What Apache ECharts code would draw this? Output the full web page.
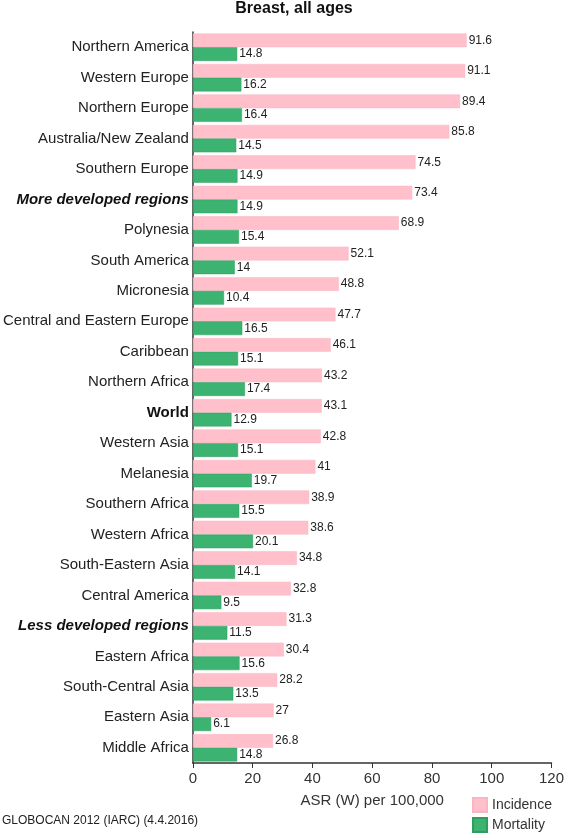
<!DOCTYPE html>
<html><head><meta charset="utf-8">
<script src="https://cdn.jsdelivr.net/npm/echarts@6/dist/echarts.min.js"></script>
<style>html,body{margin:0;padding:0;background:#fff}#c{width:567px;height:835px}</style>
</head><body><div id="c"></div>
<script>
const categories = ["Northern America","Western Europe","Northern Europe","Australia/New Zealand","Southern Europe","More developed regions","Polynesia","South America","Micronesia","Central and Eastern Europe","Caribbean","Northern Africa","World","Western Asia","Melanesia","Southern Africa","Western Africa","South-Eastern Asia","Central America","Less developed regions","Eastern Africa","South-Central Asia","Eastern Asia","Middle Africa"];
const incidence = [91.6,91.1,89.4,85.8,74.5,73.4,68.9,52.1,48.8,47.7,46.1,43.2,43.1,42.8,41,38.9,38.6,34.8,32.8,31.3,30.4,28.2,27,26.8];
const mortality = [14.8,16.2,16.4,14.5,14.9,14.9,15.4,14,10.4,16.5,15.1,17.4,12.9,15.1,19.7,15.5,20.1,14.1,9.5,11.5,15.6,13.5,6.1,14.8];
const xTicks = [0,20,40,60,80,100,120];
const boldItalic = ["More developed regions","Less developed regions"];
const boldOnly = ["World"];
const FONT = "Liberation Sans, Arial, sans-serif";

const chart = echarts.init(document.getElementById('c'), null, {renderer:'canvas'});
chart.setOption({
  animation:false,
  backgroundColor:'#fff',
  graphic:[
    {type:'text', x:294, y:1, style:{text:'Breast, all ages', font:'bold 16px '+FONT, fill:'#111', align:'center', verticalAlign:'top'}},
    {type:'text', left:2, top:815, style:{text:'GLOBOCAN 2012 (IARC) (4.4.2016)', font:'12px '+FONT, fill:'#222'}}
  ],
  legend:{orient:'vertical', left:472, top:797, padding:0, itemWidth:14, itemHeight:14, itemGap:4,
    icon:'rect', textStyle:{fontFamily:FONT, fontSize:14, color:'#333'},
    data:['Incidence','Mortality']},
  grid:{left:192, right:14, top:32, bottom:72, containLabel:false},
  xAxis:{type:'value', min:0, max:120, interval:20,
    name:'ASR (W) per 100,000', nameLocation:'middle', nameGap:30,
    nameTextStyle:{fontFamily:FONT, fontSize:15, color:'#333'},
    axisLine:{show:true, lineStyle:{color:'#333', width:1.5}},
    axisTick:{show:true, length:5, lineStyle:{color:'#333'}},
    axisLabel:{fontFamily:FONT, fontSize:15, color:'#333', margin:8,
      formatter:v=>xTicks.includes(v)?String(v):''},
    splitLine:{show:false}},
  yAxis:{type:'category', data:categories, inverse:true,
    axisLine:{show:true, lineStyle:{color:'#333', width:1.5}},
    axisTick:{show:false},
    axisLabel:{margin:4, fontFamily:FONT, fontSize:15, color:'#222',
      formatter:v=> boldItalic.includes(v)?'{bi|'+v+'}':(boldOnly.includes(v)?'{b|'+v+'}':v),
      rich:{bi:{fontFamily:FONT, fontSize:15, fontWeight:'bold', fontStyle:'italic', color:'#111'},
            b:{fontFamily:FONT, fontSize:15, fontWeight:'bold', color:'#111'}}}},
  series:[
    {name:'Incidence', type:'bar', data:incidence, barGap:'0%', barCategoryGap:'10%',
      itemStyle:{color:'#FFC0CB', borderColor:'#f7b6c2', borderWidth:0.5},
      label:{show:true, position:'right', distance:2, fontFamily:FONT, fontSize:12, color:'#222'}},
    {name:'Mortality', type:'bar', data:mortality,
      itemStyle:{color:'#3CB371', borderColor:'#2e9e5e', borderWidth:0.5},
      label:{show:true, position:'right', distance:2, fontFamily:FONT, fontSize:12, color:'#222'}}
  ]
});
</script></body></html>
